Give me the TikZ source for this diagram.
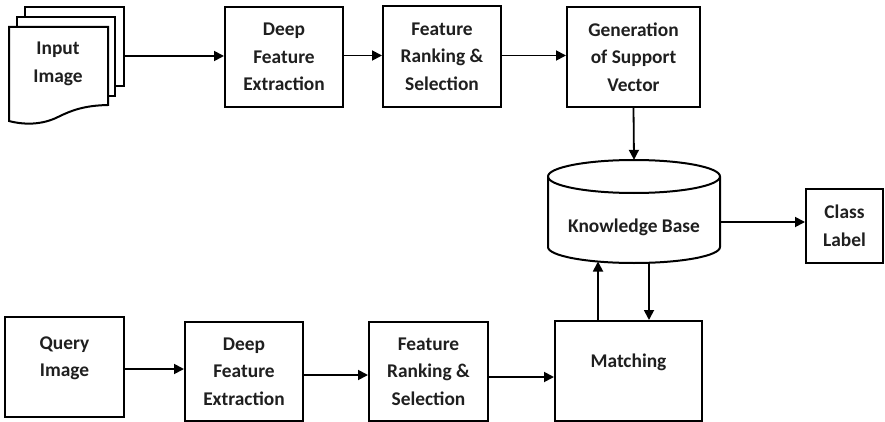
\documentclass[tikz,border=0pt]{standalone}
\usepackage{fontspec}
\setmainfont{Carlito}
\usetikzlibrary{arrows.meta}
\begin{document}
\begin{tikzpicture}[x=1pt,y=-1pt,
  lbl/.style={font=\fontsize{19.4}{27.5}\selectfont\bfseries, align=center, text=black!88},
  box/.style={draw, line width=2pt, lbl, inner sep=0pt},
  page/.style={draw, fill=white, line width=2pt, line join=miter},
  arr/.style={line width=1.8pt, -{Triangle[length=10pt,width=10pt]}}]
\useasboundingbox (0,0) rectangle (885,422);

% stacked input documents
\node[page, minimum width=99pt, minimum height=79pt, inner sep=0pt] (pageback) at (74.5,46.5) {};
\node[page, minimum width=98pt, minimum height=79pt, inner sep=0pt] (pagemid) at (66,56.5) {};
\draw[page] (9,27) -- (108,27) -- (108,105)
  .. controls (85,105.5) and (72,110) .. (58,117)
  .. controls (42,125) and (24,125) .. (9,121) -- cycle;
\node[lbl] (inimg) at (58,64) {Input\\Image};

% upper row
\node[box, minimum width=118pt, minimum height=100pt] (deep1) at (284,57) {Deep\\Feature\\Extraction};
\node[box, minimum width=118pt, minimum height=101pt] (fr1) at (442,56.5) {Feature\\Ranking \&\\Selection};
\node[box, minimum width=133pt, minimum height=100pt] (gen) at (633.5,57) {Generation\\of Support\\Vector};

% knowledge base cylinder
\node[minimum width=172pt, minimum height=103pt, inner sep=0pt] (kb) at (634,211.5) {};
\draw[page] (548,176.5) -- (548,247)
  arc[start angle=180, end angle=360, x radius=86pt, y radius=16pt]
  -- (720,176.5)
  arc[start angle=0, end angle=180, x radius=86pt, y radius=16.5pt] -- cycle;
\draw[line width=2pt] (548,176.5) arc[start angle=180, end angle=360, x radius=86pt, y radius=16.5pt];
\node[lbl] (kbtext) at (634,227) {Knowledge Base};

\node[box, minimum width=77pt, minimum height=74pt] (cls) at (844.5,226) {Class\\Label};

% lower row
\node[box, minimum width=119pt, minimum height=100pt] (query) at (64.5,367) {};
\node[lbl] (qtext) at (64.5,358.5) {Query\\Image};
\node[box, minimum width=118pt, minimum height=99pt] (deep2) at (244,371.5) {Deep\\Feature\\Extraction};
\node[box, minimum width=119pt, minimum height=99pt] (fr2) at (428.5,371.5) {Feature\\Ranking \&\\Selection};
\node[box, minimum width=147pt, minimum height=100pt] (match) at (628.5,371) {};
\node[lbl] (mtext) at (628.5,362) {Matching};

% connectors
\coordinate (c1) at (124,56);
\draw[arr] (c1) -- (c1 -| deep1.west);
\coordinate (c2) at (343,55.5);
\draw[arr] (c2) -- (c2 -| fr1.west);
\coordinate (c3) at (501,55.5);
\draw[arr] (c3) -- (c3 -| gen.west);
\draw[arr] (gen.south) -- (kb.north);
\coordinate (kbout) at (720,222);
\draw[arr] (kbout) -- (kbout -| cls.west);
\coordinate (kbup) at (598,261.5);
\draw[arr] (match.north -| kbup) -- (kbup);
\coordinate (kbdown) at (649,262.8);
\draw[arr] (kbdown) -- (kbdown |- match.north);

\coordinate (c4) at (124,369);
\draw[arr] (c4) -- (c4 -| deep2.west);
\coordinate (c5) at (303,375);
\draw[arr] (c5) -- (c5 -| fr2.west);
\coordinate (c6) at (488,377);
\draw[arr] (c6) -- (c6 -| match.west);
\end{tikzpicture}
\end{document}
